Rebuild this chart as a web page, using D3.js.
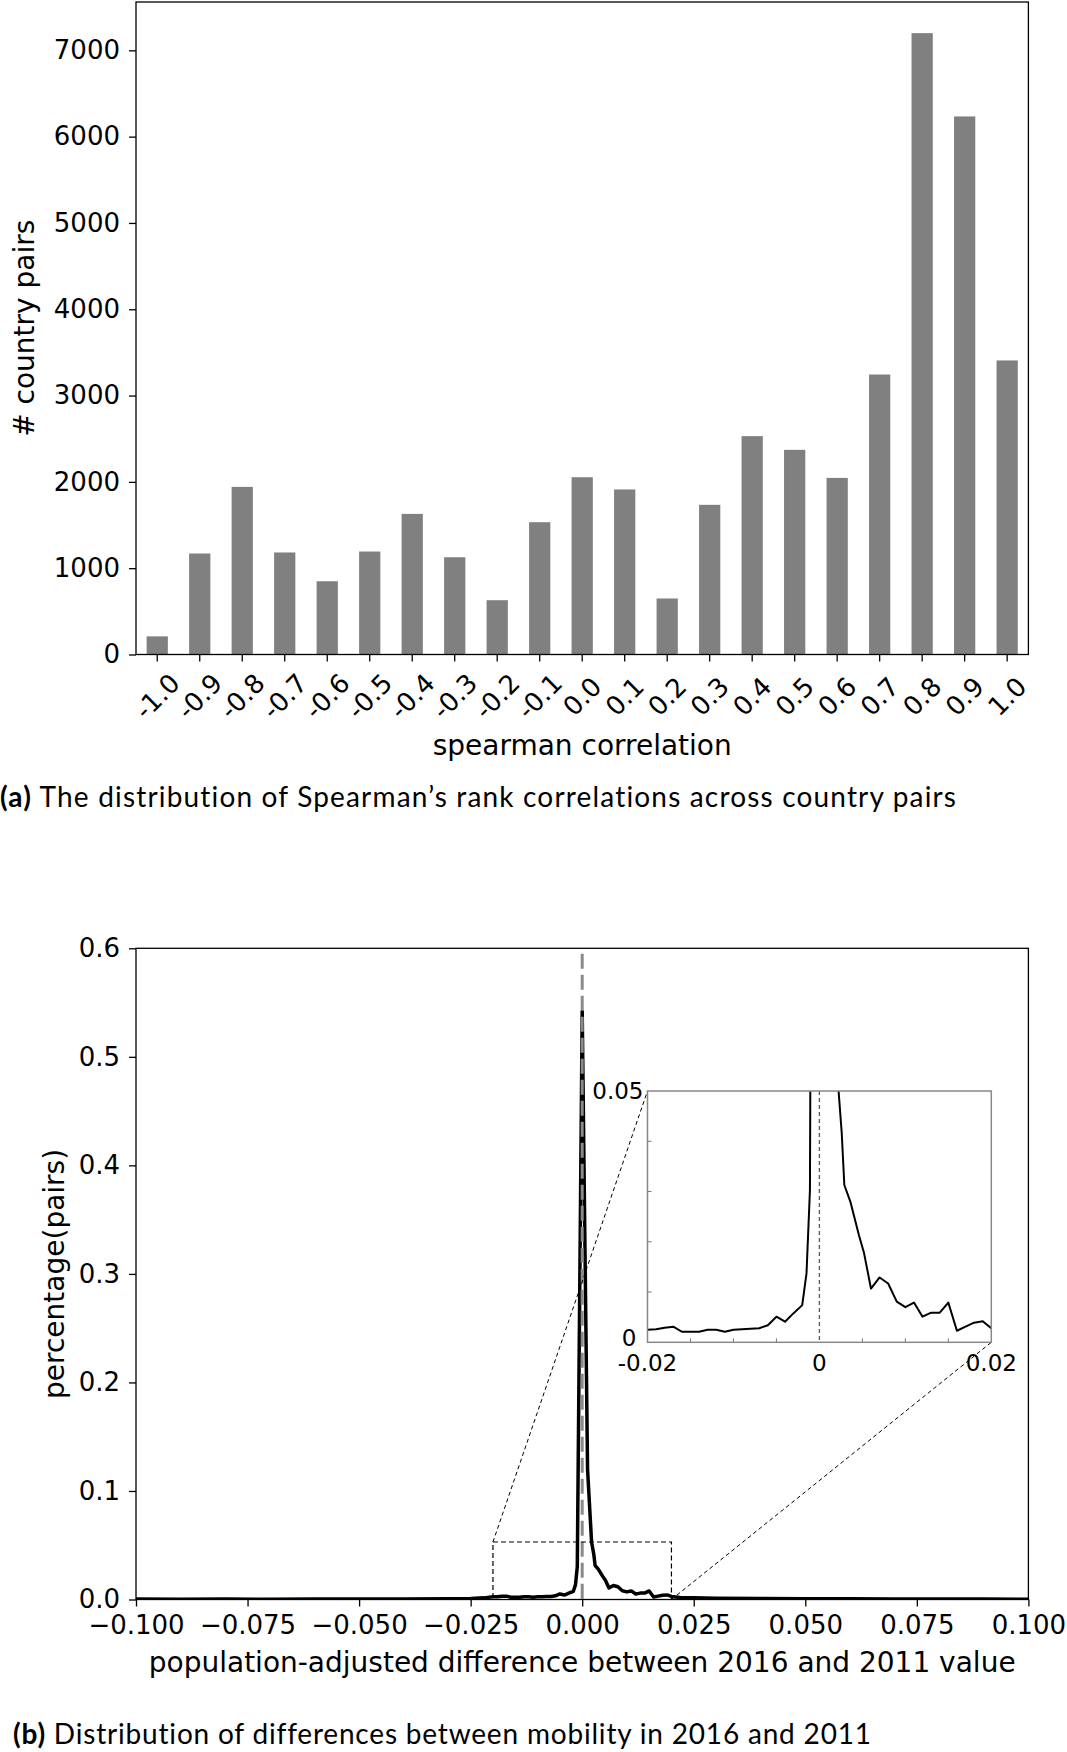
<!DOCTYPE html>
<html>
<head>
<meta charset="utf-8">
<script src="https://cdn.jsdelivr.net/npm/d3@7"></script>
<style>
  body { margin: 0; background: #fff; }
  svg text { font-family: "DejaVu Sans", sans-serif; fill: #000; }
  .caption { font-family: Lato, "DejaVu Sans", sans-serif; font-variant-ligatures: none; font-feature-settings: "liga" 0, "clig" 0; }
</style>
</head>
<body>
<svg id="fig" width="1067" height="1752"></svg>
<script>
// ---- (a) spearman correlation across country pairs
const corrLabels = ["-1.0","-0.9","-0.8","-0.7","-0.6","-0.5","-0.4","-0.3","-0.2","-0.1",
                    "0.0","0.1","0.2","0.3","0.4","0.5","0.6","0.7","0.8","0.9","1.0"];
const pairCounts = [210, 1170, 1942, 1182, 849, 1193, 1629, 1127, 629, 1533,
                    2054, 1912, 649, 1734, 2530, 2371, 2046, 3244, 7199, 6234, 3407];
const countTicks = [0, 1000, 2000, 3000, 4000, 5000, 6000, 7000];

// ---- (b) difference between 2016 and 2011 mobility
const diffX = [-0.100, -0.090, -0.080, -0.070, -0.060, -0.050, -0.040, -0.030, -0.025, -0.022,
               -0.020, -0.019, -0.018, -0.017, -0.016, -0.015, -0.014, -0.013, -0.012, -0.011,
               -0.010, -0.009, -0.008, -0.007, -0.006, -0.005, -0.004, -0.003, -0.002, -0.0015,
               -0.0011, 0.0, 0.0012, 0.0021, 0.0026, 0.0029, 0.0036, 0.0046, 0.0052, 0.006,
               0.007, 0.008, 0.009, 0.010, 0.011, 0.012, 0.013, 0.014, 0.015, 0.016,
               0.017, 0.018, 0.019, 0.020, 0.022, 0.025, 0.030, 0.040, 0.050, 0.060,
               0.070, 0.080, 0.090, 0.100];
const diffShare = [0.0004, 0.0003, 0.0004, 0.0003, 0.0004, 0.0005, 0.0005, 0.0008, 0.0010, 0.0015,
                   0.0025, 0.0026, 0.0029, 0.0031, 0.0021, 0.0021, 0.0021, 0.0025, 0.0025, 0.0021,
                   0.0025, 0.0026, 0.0027, 0.0028, 0.0034, 0.0051, 0.0041, 0.0058, 0.0074, 0.0137,
                   0.0303, 0.542, 0.120, 0.053, 0.0416, 0.0313, 0.0280, 0.0213, 0.0177, 0.0107,
                   0.0129, 0.0117, 0.0081, 0.0070, 0.0079, 0.0051, 0.0059, 0.0059, 0.0079, 0.0023,
                   0.0031, 0.0039, 0.0042, 0.0028, 0.0018, 0.0015, 0.0012, 0.0009, 0.0008, 0.0006,
                   0.0005, 0.0004, 0.0004, 0.0003];
const diffTicks = [-0.1, -0.075, -0.05, -0.025, 0, 0.025, 0.05, 0.075, 0.1];
const shareTicks = [0, 0.1, 0.2, 0.3, 0.4, 0.5, 0.6];

// zoomed inset
const zoomX = [-0.02, 0.02];
const zoomY = [0, 0.05];
const zoomMarkTop = 0.053;
const insetXTicks = [-0.02, 0, 0.02];
const insetXLabels = ["-0.02", "0", "0.02"];
const insetMinorX = [-0.015, -0.01, -0.005, 0.005, 0.01, 0.015];
const insetMinorY = [0.01, 0.02, 0.03, 0.04];

const svg = d3.select('#fig');
const plotL = 136, plotR = 1028.4;

// ================= chart (a)
const aTop = 2, aBot = 654.5;
const xa = d3.scaleBand().domain(corrLabels).range([plotL, plotR])
  .paddingInner(0.5).paddingOuter(0.25);
const ya = d3.scaleLinear().domain([0, 7560]).range([aBot, aTop]);

svg.append('g').selectAll('rect')
  .data(pairCounts)
  .enter().append('rect')
  .attr('x', (d, i) => xa(corrLabels[i]))
  .attr('width', xa.bandwidth())
  .attr('y', d => ya(d))
  .attr('height', d => ya(0) - ya(d))
  .attr('fill', '#808080');

const ayAxis = svg.append('g')
  .attr('transform', 'translate(' + plotL + ',0)')
  .call(d3.axisLeft(ya).tickValues(countTicks).tickSize(7).tickPadding(9).tickFormat(d3.format('d')));
const axAxis = svg.append('g')
  .attr('transform', 'translate(0,' + aBot + ')')
  .call(d3.axisBottom(xa).tickSize(7));
axAxis.selectAll('text')
  .attr('y', null).attr('dy', null)
  .attr('text-anchor', 'middle')
  .attr('dominant-baseline', 'central')
  .attr('transform', 'translate(0,42) rotate(-45)');

svg.append('rect')
  .attr('x', plotL).attr('y', aTop)
  .attr('width', plotR - plotL).attr('height', aBot - aTop)
  .attr('fill', 'none').attr('stroke', '#000').attr('stroke-width', 1.3);

svg.append('text')
  .attr('transform', 'translate(34,' + ((aTop + aBot) / 2) + ') rotate(-90)')
  .attr('text-anchor', 'middle')
  .attr('font-size', 28)
  .text('# country pairs');
svg.append('text')
  .attr('x', (plotL + plotR) / 2).attr('y', 755)
  .attr('text-anchor', 'middle')
  .attr('font-size', 28)
  .text('spearman correlation');

const capA = svg.append('text').attr('class', 'caption')
  .attr('x', 0).attr('y', 807).attr('font-size', 28)
  .attr('textLength', 956).attr('lengthAdjust', 'spacing');
capA.append('tspan').attr('font-weight', 'bold').text('(a)');
capA.append('tspan').text(' The distribution of Spearman\u2019s rank correlations across country pairs');

// ================= chart (b)
const bTop = 948.3, bBot = 1599.5;
const xb = d3.scaleLinear().domain([-0.1, 0.1]).range([plotL, plotR]);
const yb = d3.scaleLinear().domain([0, 0.6]).range([bBot, bTop]);
const series = diffX.map((v, i) => [v, diffShare[i]]);

svg.append('clipPath').attr('id', 'clipB')
  .append('rect').attr('x', plotL).attr('y', bTop)
  .attr('width', plotR - plotL).attr('height', bBot - bTop);

const lineB = d3.line().x(d => xb(d[0])).y(d => yb(d[1]));
svg.append('path')
  .datum(series)
  .attr('clip-path', 'url(#clipB)')
  .attr('d', lineB)
  .attr('fill', 'none').attr('stroke', '#000')
  .attr('stroke-width', 3.5).attr('stroke-linejoin', 'round');

svg.append('line')
  .attr('x1', xb(0)).attr('x2', xb(0))
  .attr('y1', yb(0.595)).attr('y2', yb(0))
  .attr('stroke', '#8a8a8a').attr('stroke-width', 3)
  .attr('stroke-dasharray', '15,6');

const byAxis = svg.append('g')
  .attr('transform', 'translate(' + plotL + ',0)')
  .call(d3.axisLeft(yb).tickValues(shareTicks).tickSize(7).tickPadding(9).tickFormat(d3.format('.1f')));
const bxAxis = svg.append('g')
  .attr('transform', 'translate(0,' + bBot + ')')
  .call(d3.axisBottom(xb).tickValues(diffTicks).tickSize(7).tickPadding(9).tickFormat(d3.format('.3f')));

svg.append('rect')
  .attr('x', plotL).attr('y', bTop)
  .attr('width', plotR - plotL).attr('height', bBot - bTop)
  .attr('fill', 'none').attr('stroke', '#000').attr('stroke-width', 1.3);

// zoom marker box + connectors
const insL = 647.5, insR = 991.3, insT = 1091, insB = 1342.3;
svg.append('rect')
  .attr('x', xb(zoomX[0])).attr('y', yb(zoomMarkTop))
  .attr('width', xb(zoomX[1]) - xb(zoomX[0])).attr('height', yb(0) - yb(zoomMarkTop))
  .attr('fill', 'none').attr('stroke', '#000').attr('stroke-width', 1.2)
  .attr('stroke-dasharray', '5,3');
svg.append('line')
  .attr('x1', xb(zoomX[0])).attr('y1', yb(zoomMarkTop))
  .attr('x2', insL).attr('y2', insT)
  .attr('stroke', '#000').attr('stroke-width', 1).attr('stroke-dasharray', '4,3');
svg.append('line')
  .attr('x1', xb(zoomX[1])).attr('y1', yb(0))
  .attr('x2', insR).attr('y2', insB)
  .attr('stroke', '#000').attr('stroke-width', 1).attr('stroke-dasharray', '4,3');

// inset
const xi = d3.scaleLinear().domain(zoomX).range([insL, insR]);
const yi = d3.scaleLinear().domain(zoomY).range([insB, insT]);
svg.append('clipPath').attr('id', 'clipI')
  .append('rect').attr('x', insL).attr('y', insT)
  .attr('width', insR - insL).attr('height', insB - insT);
svg.append('rect')
  .attr('x', insL).attr('y', insT)
  .attr('width', insR - insL).attr('height', insB - insT)
  .attr('fill', '#fff');
svg.append('line')
  .attr('x1', xi(0)).attr('x2', xi(0)).attr('y1', insT).attr('y2', insB)
  .attr('stroke', '#555').attr('stroke-width', 1.3).attr('stroke-dasharray', '4,3');
svg.append('path')
  .datum(series)
  .attr('clip-path', 'url(#clipI)')
  .attr('d', d3.line().x(d => xi(d[0])).y(d => yi(d[1])))
  .attr('fill', 'none').attr('stroke', '#000')
  .attr('stroke-width', 2).attr('stroke-linejoin', 'round');

svg.append('g').selectAll('line')
  .data(insetMinorX).enter().append('line')
  .attr('x1', d => xi(d)).attr('x2', d => xi(d))
  .attr('y1', insB).attr('y2', insB - 4)
  .attr('stroke', '#777').attr('stroke-width', 1);
svg.append('g').selectAll('line')
  .data(insetMinorY).enter().append('line')
  .attr('x1', insL).attr('x2', insL + 4)
  .attr('y1', d => yi(d)).attr('y2', d => yi(d))
  .attr('stroke', '#777').attr('stroke-width', 1);
svg.append('rect')
  .attr('x', insL).attr('y', insT)
  .attr('width', insR - insL).attr('height', insB - insT)
  .attr('fill', 'none').attr('stroke', '#888').attr('stroke-width', 1.5);

svg.append('g').selectAll('text')
  .data(insetXTicks).enter().append('text')
  .attr('x', d => xi(d)).attr('y', 1371)
  .attr('text-anchor', 'middle').attr('font-size', 23)
  .text((d, i) => insetXLabels[i]);
svg.append('text')
  .attr('x', insL - 4).attr('y', yi(zoomY[1]))
  .attr('text-anchor', 'end').attr('dominant-baseline', 'central').attr('font-size', 23)
  .text('0.05');
svg.append('text')
  .attr('x', insL - 11).attr('y', yi(zoomY[0]) - 4)
  .attr('text-anchor', 'end').attr('dominant-baseline', 'central').attr('font-size', 23)
  .text('0');

svg.append('text')
  .attr('transform', 'translate(64,' + ((bTop + bBot) / 2) + ') rotate(-90)')
  .attr('text-anchor', 'middle')
  .attr('font-size', 28)
  .text('percentage(pairs)');
svg.append('text')
  .attr('x', (plotL + plotR) / 2).attr('y', 1672)
  .attr('text-anchor', 'middle')
  .attr('font-size', 28)
  .text('population-adjusted difference between 2016 and 2011 value');

const capB = svg.append('text').attr('class', 'caption')
  .attr('x', 13).attr('y', 1743.5).attr('font-size', 28)
  .attr('textLength', 858).attr('lengthAdjust', 'spacing');
capB.append('tspan').attr('font-weight', 'bold').text('(b)');
capB.append('tspan').text(' Distribution of differences between mobility in 2016 and 2011');

// axis styling
[ayAxis, axAxis, byAxis, bxAxis].forEach(g => {
  g.attr('font-family', null).attr('font-size', 26);
  g.select('.domain').remove();
  g.selectAll('.tick line').attr('stroke', '#000').attr('stroke-width', 1.3);
});
</script>
</body>
</html>
